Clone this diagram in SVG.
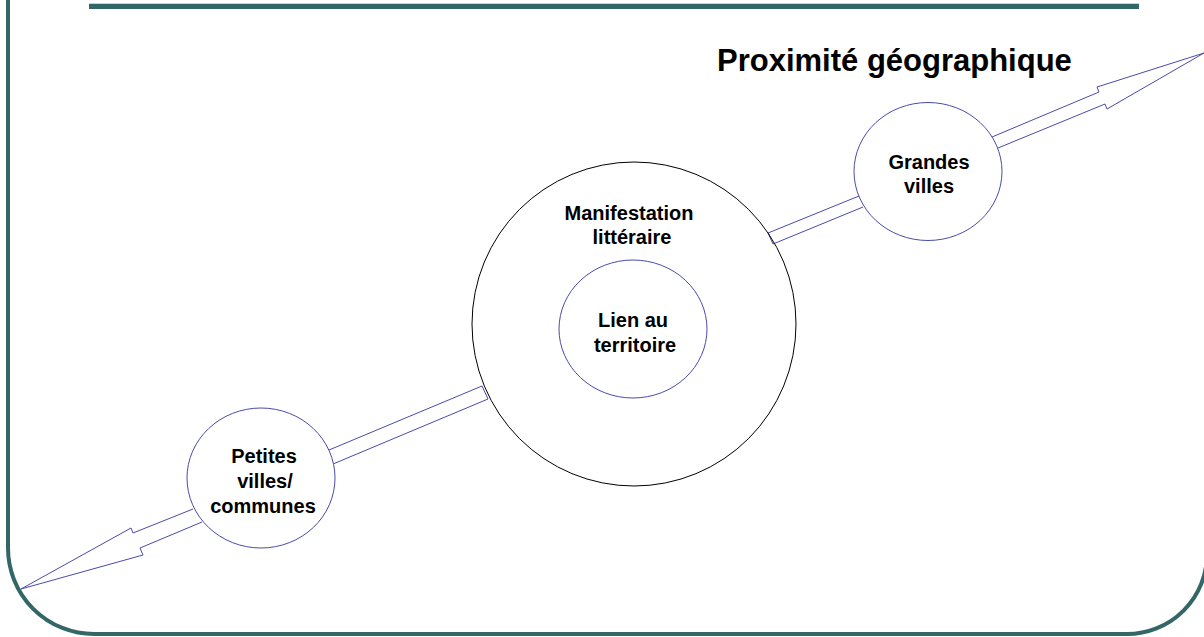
<svg xmlns="http://www.w3.org/2000/svg" width="1204" height="637" viewBox="0 0 1204 637">
<style>
.frame{fill:none;stroke:#336666;stroke-width:4}
.blue{fill:#fff;stroke:#4a4aaa;stroke-width:1}
.conn{fill:none;stroke:#4a4aaa;stroke-width:1;stroke-linejoin:miter}
.t{font-family:"Liberation Sans",Arial,sans-serif;font-weight:bold;font-size:20px;fill:#000;text-anchor:middle}
</style>
<rect width="1204" height="637" fill="#fff"/>
<g id="frame">
<path class="frame" d="M 8 0 V 548 A 86 86 0 0 0 94 634 H 1127 A 80 80 0 0 0 1207 554 V 0"/>
<rect x="89" y="3" width="1050" height="6" fill="#336666"/>
<line x1="89" y1="3.5" x2="1139" y2="3.5" stroke="#c8d4d4" stroke-width="1"/>
</g>
<g id="connectors">
<path class="conn" d="M 193 509 L 133 533 L 131 528 L 21 589 L 143 555 L 140 548 L 202 522"/>
<path class="conn" d="M 329 450 L 482 386 L 488 399 L 333 464"/>
<path class="conn" d="M 859 196 L 768 233 L 773 244 L 863 207"/>
<path class="conn" d="M 992 137 L 1099 92 L 1097 87 L 1204 53 L 1107 109 L 1105 104 L 998 148"/>
</g>
<g id="manifestation">
<circle cx="634" cy="324" r="162" fill="none" stroke="#000" stroke-width="1"/>
<text class="t" x="629" y="220">Manifestation</text>
<text class="t" x="632" y="244">littéraire</text>
</g>
<g id="lien">
<ellipse class="blue" cx="633" cy="329" rx="74" ry="69"/>
<text class="t" x="633" y="327">Lien au</text>
<text class="t" x="635" y="352">territoire</text>
</g>
<g id="grandes">
<ellipse class="blue" cx="928" cy="171.5" rx="74" ry="69"/>
<text class="t" x="929" y="169">Grandes</text>
<text class="t" x="929" y="193">villes</text>
</g>
<g id="petites">
<ellipse class="blue" cx="261" cy="478" rx="74" ry="70"/>
<text class="t" x="264" y="463">Petites</text>
<text class="t" x="265" y="488">villes/</text>
<text class="t" x="263" y="513">communes</text>
</g>
<g id="title">
<text x="717" y="71" style="font-family:'Liberation Sans',Arial,sans-serif;font-weight:bold;font-size:31px;fill:#000">Proximité géographique</text>
</g>
</svg>
